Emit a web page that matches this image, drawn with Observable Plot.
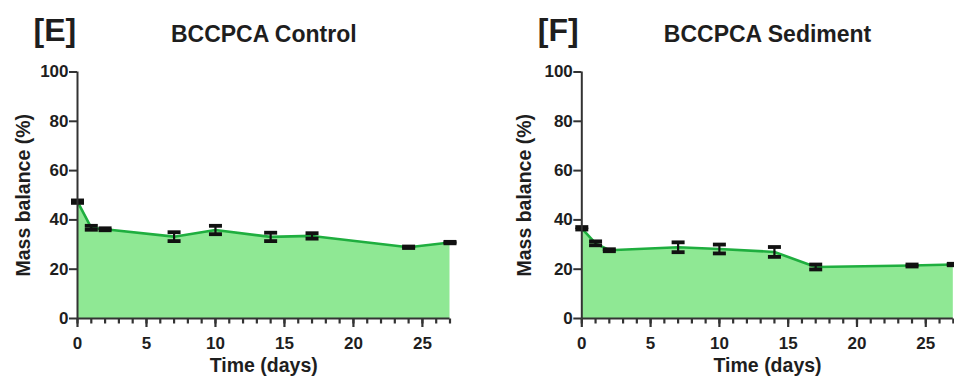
<!DOCTYPE html>
<html>
<head>
<meta charset="utf-8">
<script src="https://cdn.jsdelivr.net/npm/d3@7"></script>
<script src="https://cdn.jsdelivr.net/npm/@observablehq/plot@0.6"></script>
<style>
  html, body { margin: 0; padding: 0; background: #fff; }
  #wrap { position: relative; width: 954px; height: 376px; overflow: hidden; }
  #wrap > div, #wrap > svg { position: absolute; top: 0; }
</style>
</head>
<body>
<div id="wrap"></div>
<script>
// ---- data ----
const days = [0, 1, 2, 7, 10, 14, 17, 24, 27];
const controlMean = [47.4, 36.8, 36.2, 33.2, 35.9, 33.1, 33.5, 28.9, 30.8];
const controlErr  = [0.5, 0.8, 0.4, 1.8, 1.7, 1.7, 1.1, 0.3, 0.3];
const sedimentMean = [36.6, 30.5, 27.7, 28.9, 28.2, 27.0, 20.9, 21.5, 21.9];
const sedimentErr  = [0.5, 0.8, 0.4, 2.0, 1.8, 2.0, 1.0, 0.4, 0.3];
const yTicks = [0, 20, 40, 60, 80, 100];
const xTicks = [0, 5, 10, 15, 20, 25];
const xMinorTicks = d3.range(0, 28);

const panels = [
  {tag: "[E]", title: "BCCPCA Control", mean: controlMean, err: controlErr},
  {tag: "[F]", title: "BCCPCA Sediment", mean: sedimentMean, err: sedimentErr}
];

const layout = [
  {left: 0, marginLeft: 77, marginRight: 27.5, labelDx: -54},
  {left: 477, marginLeft: 104.3, marginRight: 1.2, labelDx: -57}
];

const capSymbol = {
  draw(context) { context.rect(-6.5, -1.9, 13, 3.8); }
};
const minorTickSymbol = {
  draw(context) { context.rect(-1.1, 0, 2.2, 5); }
};
const majorTickSymbol = {
  draw(context) { context.rect(-1.1, 0, 2.2, 8.5); }
};

const FONT = "'Liberation Sans', Arial, Helvetica, sans-serif";
const fillColor = "#8fe894";
const lineColor = "#1fae3f";
const inkColor = "#1e1e1e";

panels.forEach((p, i) => {
  const L = layout[i];
  const rows = days.map((t, k) => ({t, v: p.mean[k], lo: p.mean[k] - p.err[k], hi: p.mean[k] + p.err[k]}));
  const chart = Plot.plot({
    width: 477,
    height: 376,
    marginLeft: L.marginLeft,
    marginRight: L.marginRight,
    marginTop: 71.5,
    marginBottom: 58,
    x: {domain: [0, 27]},
    y: {domain: [0, 100]},
    style: {fontFamily: FONT, fontWeight: "bold", color: inkColor, background: "transparent", overflow: "visible"},
    marks: [
      Plot.areaY(rows, {x: "t", y: "v", fill: fillColor}),
      Plot.line(rows, {x: "t", y: "v", stroke: lineColor, strokeWidth: 2.6}),
      Plot.ruleX(rows, {x: "t", y1: "lo", y2: "hi", stroke: "#111", strokeWidth: 2.2}),
      Plot.dot(rows, {x: "t", y: "lo", symbol: capSymbol, fill: "#111", stroke: null}),
      Plot.dot(rows, {x: "t", y: "hi", symbol: capSymbol, fill: "#111", stroke: null}),
      Plot.axisY(yTicks, {tickSize: 8, tickPadding: 1, fontSize: 17, label: null, strokeWidth: 2, stroke: "#333"}),
      Plot.dot(xMinorTicks, {x: d => d, y: () => 0, symbol: minorTickSymbol, fill: "#333", stroke: null}),
      Plot.dot(xTicks, {x: d => d, y: () => 0, symbol: majorTickSymbol, fill: "#333", stroke: null}),
      Plot.axisX(xTicks, {tickSize: 0, tickPadding: 18, fontSize: 17, label: null}),
      Plot.ruleX([0], {stroke: "#333", strokeWidth: 2}),
      Plot.ruleY([0], {stroke: "#333", strokeWidth: 2}),
      Plot.text(["Mass balance (%)"], {frameAnchor: "left", rotate: -90, dx: L.labelDx, lineAnchor: "middle", textAnchor: "middle", fontSize: 19.5, fontWeight: "bold", fill: inkColor}),
      Plot.text(["Time (days)"], {frameAnchor: "bottom", dy: 47, lineAnchor: "middle", textAnchor: "middle", fontSize: 19.5, fontWeight: "bold", fill: inkColor}),
      Plot.text([p.title], {frameAnchor: "top", dy: -37, lineAnchor: "middle", textAnchor: "middle", fontSize: 23, fontWeight: "bold", fill: inkColor}),
      Plot.text([p.tag], {frameAnchor: "top-left", dx: -44, dy: -41.5, lineAnchor: "middle", textAnchor: "start", fontSize: 32, fontWeight: "bold", fill: inkColor})
    ]
  });
  chart.style.left = L.left + "px";
  document.getElementById("wrap").appendChild(chart);
});
</script>
</body>
</html>
